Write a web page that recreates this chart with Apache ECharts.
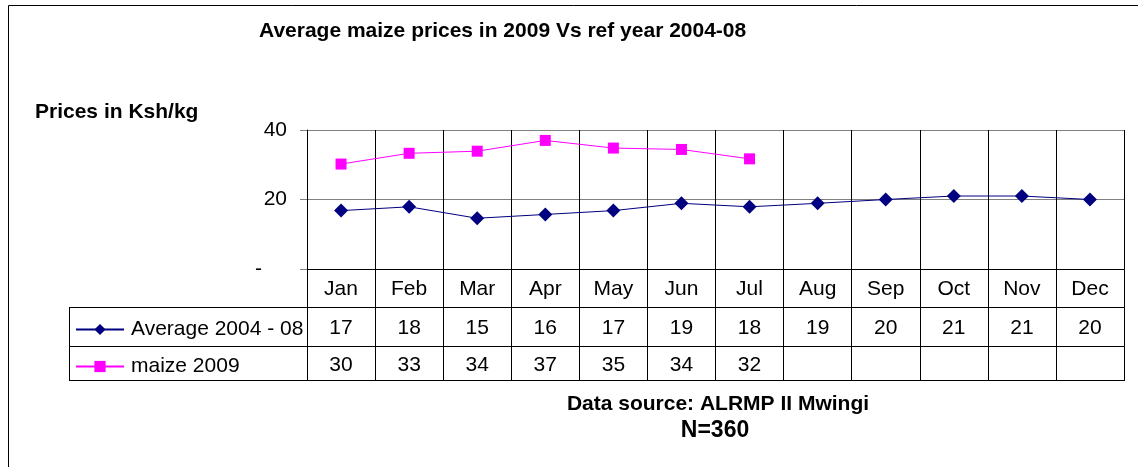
<!DOCTYPE html>
<html>
<head>
<meta charset="utf-8">
<title>Average maize prices</title>
<script src="https://cdn.jsdelivr.net/npm/echarts@6/dist/echarts.min.js"></script>
<style>
  html, body { margin: 0; padding: 0; background: #fff; }
  #main { width: 1138px; height: 467px; }
</style>
</head>
<body>
<div id="main"></div>
<script>
var months = ['Jan', 'Feb', 'Mar', 'Apr', 'May', 'Jun', 'Jul', 'Aug', 'Sep', 'Oct', 'Nov', 'Dec'];
var avgName = 'Average 2004 - 08';
var maizeName = 'maize 2009';
var avgValues = [16.8, 17.9, 14.6, 15.7, 16.8, 18.9, 17.9, 18.9, 20.0, 21.0, 21.0, 20.0];
var maizeValues = [30.2, 33.3, 33.9, 37.0, 34.8, 34.4, 31.7];
var yTicks = [0, 20, 40];

(function () {
  var myChart = echarts.init(document.getElementById('main'));
  var font = 'Liberation Sans, Arial, sans-serif';

  // table rows come from the same arrays, rounded like the sheet
  var avgRow = avgValues.map(function (v) { return String(Math.round(v)); });
  var maizeRow = months.map(function (m, i) {
    return i < maizeValues.length ? String(Math.round(maizeValues[i])) : '';
  });

  // plot area (pixels)
  var L = 307, T = 130, W = 817, H = 139;
  var tableLeft = 69, row1 = T + H + 38, row2 = row1 + 39, row3 = row2 + 34;

  function tableAxis(data, offset, tickLen, margin) {
    return {
      type: 'category',
      data: data,
      position: 'bottom',
      offset: offset,
      boundaryGap: true,
      axisLine: { show: true, lineStyle: { color: '#000', width: 1 } },
      axisTick: { show: true, interval: 0, length: tickLen, lineStyle: { color: '#000' } },
      axisLabel: { interval: 0, margin: margin, fontSize: 21, color: '#000', fontFamily: font },
      splitLine: { show: false }
    };
  }

  var monthAxis = tableAxis(months, 0, 38, 10);
  monthAxis.splitLine = { show: true, interval: 0, lineStyle: { color: '#000', width: 1 } };

  var option = {
    backgroundColor: '#fff',
    animation: false,
    textStyle: { fontFamily: font },
    title: {
      text: 'Average maize prices in 2009 Vs ref year 2004-08',
      left: 259,
      top: 21,
      padding: 0,
      textStyle: { fontSize: 21, fontWeight: 'bold', color: '#000', fontFamily: font }
    },
    legend: {
      orient: 'vertical',
      left: 75,
      top: 319,
      itemWidth: 48,
      itemHeight: 14,
      itemGap: 16,
      padding: 0,
      data: [avgName, maizeName],
      textStyle: { fontSize: 21, color: '#000', fontFamily: font, padding: [0, 0, 0, 2] }
    },
    grid: { left: L, top: T, width: W, height: H, containLabel: false },
    xAxis: [
      monthAxis,
      tableAxis(avgRow, 38, 39, 11),
      tableAxis(maizeRow, 77, 34, 9)
    ],
    yAxis: {
      type: 'value',
      min: yTicks[0],
      max: yTicks[yTicks.length - 1],
      interval: 20,
      axisLine: { show: true, lineStyle: { color: '#000' } },
      axisTick: { show: true, length: 7, lineStyle: { color: '#808080' } },
      axisLabel: {
        margin: 20,
        fontSize: 21,
        color: '#000',
        fontFamily: font,
        formatter: function (v) { return v === 0 ? '{d|-}' : String(v); },
        rich: { d: { fontSize: 21, color: '#000', padding: [0, 25, 0, 0] } }
      },
      splitLine: { show: true, lineStyle: { color: '#808080', width: 1 } }
    },
    series: [
      {
        name: avgName,
        type: 'line',
        xAxisIndex: 0,
        data: avgValues,
        symbol: 'diamond',
        symbolSize: 14,
        lineStyle: { color: '#000080', width: 1 },
        itemStyle: { color: '#000080' }
      },
      {
        name: maizeName,
        type: 'line',
        xAxisIndex: 0,
        data: maizeValues,
        symbol: 'rect',
        symbolSize: 11,
        lineStyle: { color: '#ff00ff', width: 1 },
        itemStyle: { color: '#ff00ff' }
      }
    ],
    graphic: [
      // chart frame (only top and left edges are visible)
      { type: 'rect', z: -1, silent: true, shape: { x: 8.5, y: 5.5, width: 1300, height: 600 },
        style: { fill: null, stroke: '#000', lineWidth: 1 } },
      // legend column of the data table
      { type: 'line', silent: true, shape: { x1: tableLeft + 0.5, y1: row1, x2: tableLeft + 0.5, y2: row3 },
        style: { stroke: '#000', lineWidth: 1 } },
      { type: 'line', silent: true, shape: { x1: tableLeft, y1: row1 + 0.5, x2: L, y2: row1 + 0.5 },
        style: { stroke: '#000', lineWidth: 1 } },
      { type: 'line', silent: true, shape: { x1: tableLeft, y1: row2 + 0.5, x2: L, y2: row2 + 0.5 },
        style: { stroke: '#000', lineWidth: 1 } },
      { type: 'line', silent: true, shape: { x1: tableLeft, y1: row3 + 0.5, x2: L + W + 1, y2: row3 + 0.5 },
        style: { stroke: '#000', lineWidth: 1 } },
      { type: 'text', left: 35, top: 102,
        style: { text: 'Prices in Ksh/kg', fontSize: 21, fontWeight: 'bold', fill: '#000', fontFamily: font } },
      { type: 'text', silent: true,
        style: { x: 718, y: 404, text: 'Data source: ALRMP II Mwingi', align: 'center', verticalAlign: 'middle',
          fontSize: 21, fontWeight: 'bold', fill: '#000', fontFamily: font } },
      { type: 'text', silent: true,
        style: { x: 715, y: 431, text: 'N=360', align: 'center', verticalAlign: 'middle',
          fontSize: 23, fontWeight: 'bold', fill: '#000', fontFamily: font } }
    ]
  };

  myChart.setOption(option);

  window.addEventListener('resize', function () {
    myChart.resize();
  });
})();
</script>
</body>
</html>
